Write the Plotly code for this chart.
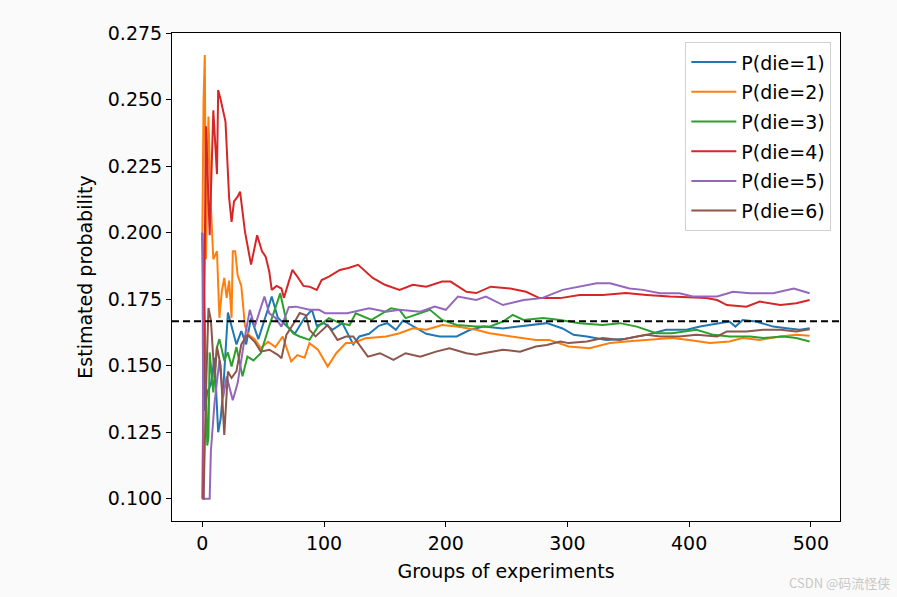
import plotly.graph_objects as go

# ---- data ----
p1_x = [0, 2, 4, 7, 10, 13, 15, 17, 21, 24, 28, 32, 36, 40, 46, 53, 57, 62, 69, 76, 84, 90, 94, 100, 107, 115, 124, 129, 137, 145, 152, 159, 165, 173, 184, 195, 209, 220, 231, 247, 264, 283, 296, 305, 316, 332, 346, 365, 381, 398, 409, 425, 433, 438, 444, 455, 469, 480, 491, 499]
p1_y = [0.2, 0.133, 0.14, 0.143, 0.153, 0.125, 0.13, 0.14, 0.170, 0.165, 0.158, 0.163, 0.158, 0.168, 0.160, 0.170, 0.176, 0.168, 0.165, 0.162, 0.168, 0.171, 0.165, 0.166, 0.1635, 0.166, 0.158, 0.161, 0.162, 0.165, 0.166, 0.1635, 0.167, 0.165, 0.162, 0.161, 0.161, 0.1635, 0.1647, 0.164, 0.165, 0.166, 0.164, 0.1616, 0.161, 0.1597, 0.160, 0.1616, 0.1635, 0.1635, 0.1647, 0.166, 0.1666, 0.1647, 0.1672, 0.1666, 0.1647, 0.1641, 0.1635, 0.1641]

p2_x = [0, 1, 2, 3, 5, 7, 9, 12, 14, 16, 18, 20, 22, 24, 25, 27, 29, 32, 35, 38, 43, 48, 54, 60, 66, 73, 78, 84, 88, 95, 103, 110, 118, 124, 134, 151, 162, 173, 184, 197, 209, 225, 236, 255, 274, 285, 301, 318, 335, 348, 365, 386, 400, 417, 433, 444, 458, 475, 488, 499]
p2_y = [0.2, 0.25, 0.2667, 0.19, 0.2436, 0.21, 0.190, 0.193, 0.168, 0.178, 0.183, 0.1755, 0.182, 0.168, 0.193, 0.193, 0.184, 0.180, 0.165, 0.1616, 0.160, 0.1566, 0.159, 0.157, 0.161, 0.1516, 0.154, 0.153, 0.1585, 0.156, 0.1497, 0.1547, 0.1585, 0.1585, 0.1603, 0.161, 0.1622, 0.1641, 0.1635, 0.1653, 0.1647, 0.1635, 0.1622, 0.161, 0.1597, 0.1597, 0.1572, 0.1566, 0.1585, 0.1591, 0.1597, 0.1604, 0.1597, 0.1585, 0.1591, 0.1604, 0.1597, 0.161, 0.1616, 0.1613]

p3_x = [0, 2, 4, 5, 6, 9, 12, 14, 18, 21, 24, 28, 33, 37, 42, 48, 55, 60, 64, 70, 75, 80, 88, 95, 104, 113, 121, 126, 139, 155, 162, 167, 179, 187, 197, 209, 225, 236, 247, 255, 264, 280, 294, 310, 329, 343, 357, 365, 373, 386, 406, 420, 433, 450, 461, 477, 488, 499]
p3_y = [0.2, 0.167, 0.12, 0.123, 0.155, 0.14, 0.157, 0.16, 0.152, 0.155, 0.1497, 0.157, 0.146, 0.1534, 0.152, 0.1547, 0.165, 0.172, 0.1772, 0.1647, 0.162, 0.161, 0.1597, 0.1647, 0.1679, 0.166, 0.1653, 0.1697, 0.1672, 0.1716, 0.171, 0.1679, 0.1697, 0.171, 0.1672, 0.1653, 0.1647, 0.1647, 0.1666, 0.1691, 0.1672, 0.1679, 0.1672, 0.166, 0.1653, 0.166, 0.1647, 0.1635, 0.1622, 0.1622, 0.1635, 0.1616, 0.161, 0.161, 0.1604, 0.161, 0.1604, 0.1591]

p4_x = [0, 1, 3, 6, 9, 12, 13, 15, 19, 22, 24, 26, 29, 31, 35, 40, 45, 49, 52, 55, 57, 61, 65, 67, 74, 78, 83, 88, 94, 98, 104, 113, 120, 128, 133, 140, 150, 162, 173, 184, 197, 204, 217, 225, 237, 253, 266, 277, 294, 310, 329, 348, 365, 384, 414, 423, 431, 447, 458, 475, 488, 499]
p4_y = [0.1, 0.15, 0.24, 0.199, 0.246, 0.222, 0.2536, 0.25, 0.2417, 0.213, 0.204, 0.2117, 0.2135, 0.2154, 0.2004, 0.188, 0.199, 0.193, 0.191, 0.1853, 0.1785, 0.180, 0.179, 0.1755, 0.186, 0.1835, 0.180, 0.1797, 0.1785, 0.1822, 0.1835, 0.186, 0.1867, 0.1879, 0.186, 0.183, 0.1804, 0.1785, 0.1804, 0.1797, 0.1816, 0.1816, 0.1778, 0.1773, 0.1797, 0.179, 0.1778, 0.1754, 0.1754, 0.1766, 0.1766, 0.1773, 0.1766, 0.176, 0.1754, 0.1747, 0.1728, 0.1722, 0.1741, 0.1728, 0.1735, 0.1747]

p5_x = [0, 1, 6, 7, 10, 14, 17, 20, 25, 29, 35, 39, 43, 51, 55, 60, 65, 71, 77, 88, 96, 101, 115, 119, 137, 151, 162, 179, 191, 200, 210, 225, 233, 247, 264, 279, 296, 324, 335, 351, 362, 376, 392, 403, 423, 431, 436, 450, 469, 486, 499]
p5_y = [0.2, 0.1, 0.1, 0.118, 0.136, 0.152, 0.138, 0.146, 0.137, 0.1435, 0.161, 0.171, 0.1647, 0.176, 0.1697, 0.168, 0.1647, 0.172, 0.1722, 0.171, 0.171, 0.1697, 0.1697, 0.1697, 0.1716, 0.1703, 0.171, 0.1703, 0.1722, 0.171, 0.176, 0.1747, 0.176, 0.1728, 0.1747, 0.1754, 0.1785, 0.181, 0.181, 0.179, 0.1785, 0.1772, 0.1772, 0.176, 0.176, 0.1772, 0.1778, 0.1772, 0.1772, 0.179, 0.1772]

p6_x = [0, 1, 3, 5, 7, 10, 12, 15, 18, 21, 24, 28, 32, 37, 43, 48, 55, 62, 65, 69, 76, 80, 85, 88, 93, 103, 111, 118, 124, 132, 136, 146, 157, 167, 179, 192, 203, 217, 225, 231, 247, 261, 274, 283, 294, 301, 316, 329, 343, 357, 365, 376, 392, 406, 423, 431, 447, 461, 475, 488, 499]
p6_y = [0.1, 0.1, 0.14, 0.1717, 0.1672, 0.1454, 0.1572, 0.150, 0.124, 0.1478, 0.1454, 0.148, 0.158, 0.1616, 0.159, 0.1553, 0.156, 0.1541, 0.1528, 0.1616, 0.1666, 0.1698, 0.169, 0.1635, 0.161, 0.1653, 0.1597, 0.161, 0.161, 0.156, 0.1534, 0.1547, 0.1522, 0.1547, 0.1534, 0.1553, 0.1566, 0.1547, 0.1541, 0.1547, 0.156, 0.1553, 0.1572, 0.1578, 0.1591, 0.1585, 0.1591, 0.1604, 0.1597, 0.161, 0.1616, 0.161, 0.161, 0.1616, 0.161, 0.1629, 0.1629, 0.1635, 0.1635, 0.1629, 0.1637]

series_names = ["P(die=1)", "P(die=2)", "P(die=3)", "P(die=4)", "P(die=5)", "P(die=6)"]
true_prob = 1 / 6
y_ticks = [0.100, 0.125, 0.150, 0.175, 0.200, 0.225, 0.250, 0.275]
x_ticks = [0, 100, 200, 300, 400, 500]

colors = ["#1f77b4", "#ff7f0e", "#2ca02c", "#d62728", "#9467bd", "#8c564b"]
xs = [p1_x, p2_x, p3_x, p4_x, p5_x, p6_x]
ys = [p1_y, p2_y, p3_y, p4_y, p5_y, p6_y]

FONT = "DejaVu Sans"
FS = 19
fig = go.Figure()
for i, name in enumerate(series_names):
    fig.add_trace(go.Scatter(
        x=xs[i], y=ys[i], mode="lines", name=name,
        legendgroup=name,
        line=dict(color=colors[i], width=2),
    ))

fig.add_shape(type="line", xref="paper", yref="y", x0=0, x1=1,
              y0=true_prob, y1=true_prob,
              line=dict(color="black", width=2, dash="7px,4px"))

fig.add_annotation(text="CSDN @码流怪侠", xref="paper", yref="paper",
                   x=1.078, y=-0.125, xanchor="right", yanchor="middle",
                   showarrow=False,
                   font=dict(family="Noto Sans CJK SC", size=13, color="#c8c8c8"))

axis_common = dict(
    showgrid=False, zeroline=False, showline=True, linecolor="black",
    linewidth=1, mirror=True, ticks="outside", ticklen=5, tickwidth=1,
    tickcolor="black", tickfont=dict(family=FONT, size=FS, color="black"),
)

fig.update_layout(
    width=897, height=597,
    margin=dict(l=172, r=57, t=33, b=76),
    paper_bgcolor="#fafafa", plot_bgcolor="white",
    font=dict(family=FONT, size=FS, color="black"),
    xaxis=dict(range=[-24.95, 523.95], tickvals=x_ticks,
               title=dict(text="Groups of experiments", standoff=11,
                          font=dict(family=FONT, size=FS)),
               **axis_common),
    yaxis=dict(range=[0.09167, 0.275], tickvals=y_ticks, tickformat=".3f",
               title=dict(text="Estimated probability", standoff=10,
                          font=dict(family=FONT, size=FS)),
               **axis_common),
    legend=dict(x=0.987, y=0.981, xanchor="right", yanchor="top",
                bgcolor="rgba(255,255,255,0.8)", bordercolor="#d0d0d0",
                borderwidth=1, font=dict(family=FONT, size=FS),
                tracegroupgap=2, itemwidth=45),
    showlegend=True,
)

fig.write_html(
    "out.html",
    config={"displayModeBar": False},
    post_script="document.body.style.margin='0';document.body.style.background='#fafafa';",
)
